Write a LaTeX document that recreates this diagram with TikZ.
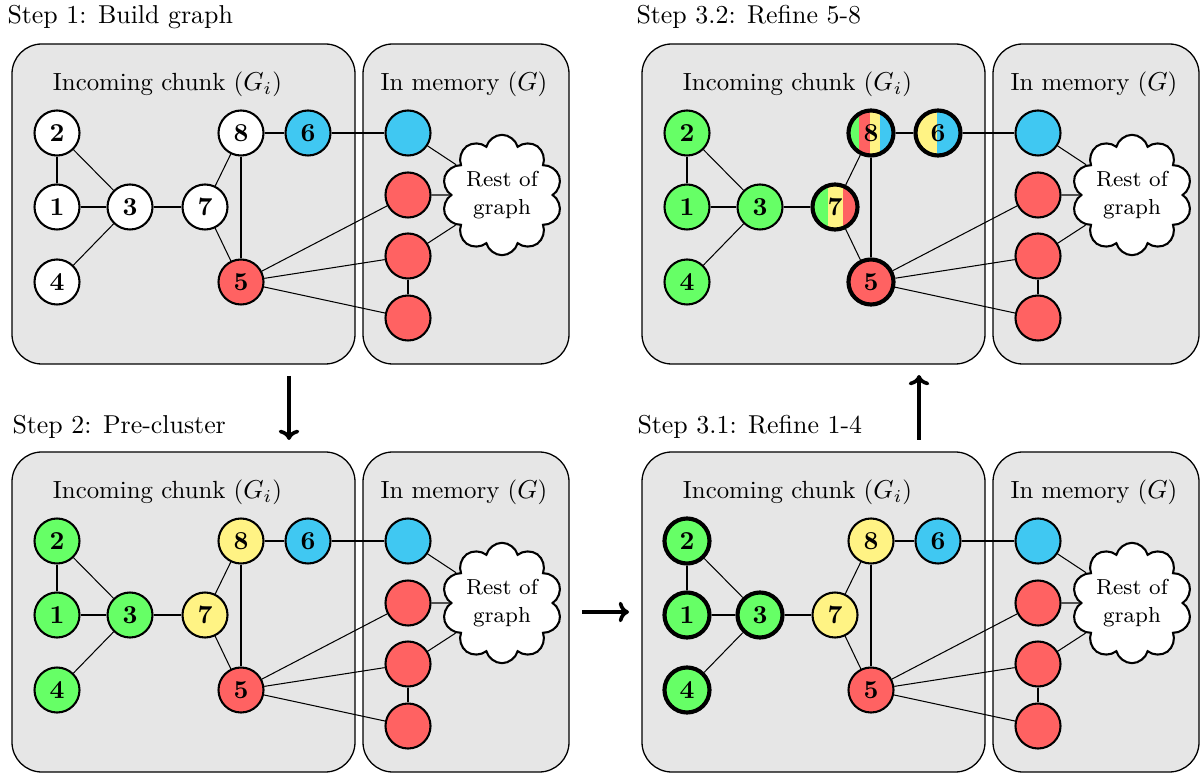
\documentclass[tikz,border=0pt]{standalone}
\usetikzlibrary{shapes.symbols,arrows.meta}
\definecolor{cgreen}{HTML}{66FF66}
\definecolor{cyellow}{HTML}{FFF384}
\definecolor{cred}{HTML}{FF6262}
\definecolor{cblue}{HTML}{40C8F2}
\definecolor{cgray}{HTML}{E6E6E6}
\tikzset{
  vtx/.style={circle, draw, line width=0.8pt, minimum size=17.4pt, inner sep=0pt, font=\bfseries},
  wht/.style={vtx, fill=white},
  grn/.style={vtx, fill=cgreen},
  yel/.style={vtx, fill=cyellow},
  rdv/.style={vtx, fill=cred},
  blu/.style={vtx, fill=cblue},
  heavy/.style={line width=1.6pt},
  edge/.style={line width=0.4pt},
  box/.style={draw, line width=0.5pt, fill=cgray, rounded corners=11.5pt},
  cloudnode/.style={cloud, cloud puffs=10, aspect=1, draw, line width=0.8pt, fill=white,
    minimum width=35pt, minimum height=35pt, inner sep=0pt, align=center,
    font=\fontsize{8.4}{11}\selectfont},
  bigarrow/.style={line width=1.4pt, -{To[length=4pt,width=8pt]}},
  title/.style={anchor=base west, inner sep=0pt},
  lbl/.style={inner sep=0pt, font=\fontsize{9.6}{11.5}\selectfont},
  st7/.style={vtx, heavy, path picture={
    \fill[cgreen] ([shift={(-12pt,-12pt)}]path picture bounding box.center) rectangle ([shift={(-2.9pt,12pt)}]path picture bounding box.center);
    \fill[cyellow] ([shift={(-2.9pt,-12pt)}]path picture bounding box.center) rectangle ([shift={(2.9pt,12pt)}]path picture bounding box.center);
    \fill[cred] ([shift={(2.9pt,-12pt)}]path picture bounding box.center) rectangle ([shift={(12pt,12pt)}]path picture bounding box.center);
  }},
  st8/.style={vtx, heavy, path picture={
    \fill[cgreen] ([shift={(-12pt,-12pt)}]path picture bounding box.center) rectangle ([shift={(-4.6pt,12pt)}]path picture bounding box.center);
    \fill[cred] ([shift={(-4.6pt,-12pt)}]path picture bounding box.center) rectangle ([shift={(-0.5pt,12pt)}]path picture bounding box.center);
    \fill[cyellow] ([shift={(-0.5pt,-12pt)}]path picture bounding box.center) rectangle ([shift={(3.6pt,12pt)}]path picture bounding box.center);
    \fill[cblue] ([shift={(3.6pt,-12pt)}]path picture bounding box.center) rectangle ([shift={(12pt,12pt)}]path picture bounding box.center);
  }},
  st6/.style={vtx, heavy, path picture={
    \fill[cyellow] ([shift={(-12pt,-12pt)}]path picture bounding box.center) rectangle ([shift={(-0.2pt,12pt)}]path picture bounding box.center);
    \fill[cblue] ([shift={(-0.2pt,-12pt)}]path picture bounding box.center) rectangle ([shift={(12pt,12pt)}]path picture bounding box.center);
  }},
}
\newcommand\graphbody[1]{%
  \draw[box] (12,44) rectangle (355,364);
  \draw[box] (363,44) rectangle (569,364);
  \node[lbl] (#1lin) at (167.5,84) {Incoming chunk ($G_i$)};
  \node[lbl] (#1lmem) at (464,84) {In memory ($G$)};
  \node[s2] (#1n2) at (57,133) {2};
  \node[s1] (#1n1) at (57,207) {1};
  \node[s4] (#1n4) at (57,282) {4};
  \node[s3] (#1n3) at (130,207) {3};
  \node[s7] (#1n7) at (205,207) {7};
  \node[s8] (#1n8) at (241,133) {8};
  \node[s6] (#1n6) at (308,133) {6};
  \node[s5] (#1n5) at (241,282) {5};
  \node[blu] (#1mb) at (408,133) {};
  \node[rdv] (#1mr1) at (408,195) {};
  \node[rdv] (#1mr2) at (408,256) {};
  \node[rdv] (#1mr3) at (408,318) {};
  \node[cloudnode] (#1cl) at (502,195) {Rest of\\graph};
  \draw[edge] (#1n2) -- (#1n1);
  \draw[edge] (#1n2) -- (#1n3);
  \draw[edge] (#1n1) -- (#1n3);
  \draw[edge] (#1n4) -- (#1n3);
  \draw[edge] (#1n3) -- (#1n7);
  \draw[edge] (#1n7) -- (#1n8);
  \draw[edge] (#1n7) -- (#1n5);
  \draw[edge] (#1n8) -- (#1n5);
  \draw[edge] (#1n8) -- (#1n6);
  \draw[edge] (#1n6) -- (#1mb);
  \draw[edge] (#1mb) -- (#1cl);
  \draw[edge] (#1mr1) -- (#1cl);
  \draw[edge] (#1mr2) -- (#1cl);
  \draw[edge] (#1n5) -- (#1mr1);
  \draw[edge] (#1n5) -- (#1mr2);
  \draw[edge] (#1n5) -- (#1mr3);
  \draw[edge] (#1mr2) -- (#1mr3);
}
\begin{document}
\begin{tikzpicture}[x=0.3865pt, y=-0.3865pt]
  \useasboundingbox (0,0) rectangle (1203,773);
  \node[title] (t1) at (7,24) {Step 1: Build graph};
  \node[title] (t2) at (12,433) {Step 2: Pre-cluster};
  \node[title] (t32) at (636,24) {Step 3.2: Refine 5-8};
  \node[title] (t31) at (637,433) {Step 3.1: Refine 1-4};
  \begin{scope}[s1/.style={wht}, s2/.style={wht}, s3/.style={wht}, s4/.style={wht},
      s5/.style={rdv}, s6/.style={blu}, s7/.style={wht}, s8/.style={wht}]
    \graphbody{a}
  \end{scope}
  \begin{scope}[shift={(0,408)}, s1/.style={grn}, s2/.style={grn}, s3/.style={grn}, s4/.style={grn},
      s5/.style={rdv}, s6/.style={blu}, s7/.style={yel}, s8/.style={yel}]
    \graphbody{b}
  \end{scope}
  \begin{scope}[shift={(630,408)}, s1/.style={grn,heavy}, s2/.style={grn,heavy}, s3/.style={grn,heavy}, s4/.style={grn,heavy},
      s5/.style={rdv}, s6/.style={blu}, s7/.style={yel}, s8/.style={yel}]
    \graphbody{c}
  \end{scope}
  \begin{scope}[shift={(630,0)}, s1/.style={grn}, s2/.style={grn}, s3/.style={grn}, s4/.style={grn},
      s5/.style={rdv,heavy}, s6/.style={st6}, s7/.style={st7}, s8/.style={st8}]
    \graphbody{d}
  \end{scope}
  \coordinate (ar1s) at (289,376);
  \coordinate (ar1e) at (289,440);
  \coordinate (ar2s) at (582,612);
  \coordinate (ar2e) at (629,612);
  \coordinate (ar3s) at (919,440);
  \coordinate (ar3e) at (919,375);
  \draw[bigarrow] (ar1s) -- (ar1e);
  \draw[bigarrow] (ar2s) -- (ar2e);
  \draw[bigarrow] (ar3s) -- (ar3e);
\end{tikzpicture}
\end{document}
